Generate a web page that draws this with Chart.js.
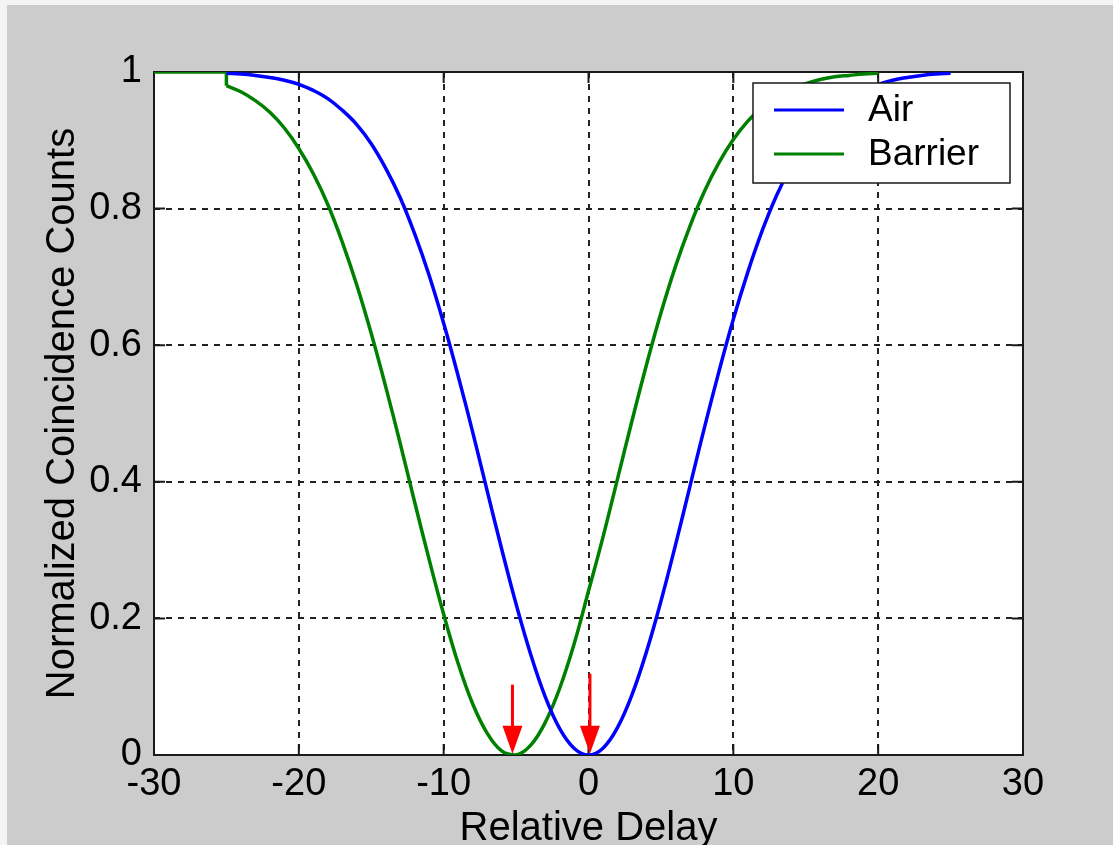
<!DOCTYPE html>
<html>
<head>
<meta charset="utf-8">
<script src="https://cdn.jsdelivr.net/npm/chart.js@4.4.1/dist/chart.umd.min.js"></script>
<style>
html, body { margin: 0; padding: 0; background: #f4f4f4; overflow: hidden; }
#wrap { position: absolute; left: 7px; top: 5px; width: 1106px; height: 850px; background: #cccccc; }
canvas { display: block; }
</style>
</head>
<body>
<div id="wrap"><canvas id="c" width="1106" height="850"></canvas></div>
<script>
// ---- data ----
const airX = [-25, -24, -23, -22, -21, -20, -19, -18, -17, -16, -15, -14, -13, -12, -11, -10, -9, -8, -7, -6, -5, -4, -3, -2, -1,
    0, 1, 2, 3, 4, 5, 6, 7, 8, 9, 10, 11, 12, 13, 14, 15, 16, 17, 18, 19, 20, 21, 22, 23, 24, 25];
const airY = [0.998, 0.997, 0.995, 0.992, 0.988, 0.982, 0.973, 0.961, 0.944, 0.923, 0.895, 0.859, 0.816, 0.763, 0.702, 0.632, 0.555, 0.473, 0.387, 0.302, 0.221, 0.148, 0.086, 0.039, 0.010,
    0.000, 0.010, 0.040, 0.088, 0.151, 0.225, 0.307, 0.393, 0.479, 0.561, 0.638, 0.707, 0.768, 0.820, 0.862, 0.897, 0.924, 0.945, 0.962, 0.974, 0.982, 0.988, 0.992, 0.995, 0.997, 0.998];

const barrierX = [-25, -24, -23, -22, -21, -20, -19, -18, -17, -16, -15, -14, -13, -12, -11, -10, -9, -8, -7, -6, -5, -4, -3, -2, -1,
    0, 1, 2, 3, 4, 5, 6, 7, 8, 9, 10, 11, 12, 13, 14, 15, 16, 17, 18, 19, 20];
const barrierY = [0.980, 0.971, 0.958, 0.941, 0.918, 0.888, 0.851, 0.806, 0.751, 0.688, 0.617, 0.539, 0.456, 0.370, 0.286, 0.206, 0.134, 0.075, 0.032, 0.006, 0.000, 0.014, 0.047, 0.097, 0.162,
    0.240, 0.319, 0.404, 0.489, 0.571, 0.647, 0.715, 0.774, 0.825, 0.867, 0.901, 0.928, 0.948, 0.964, 0.975, 0.983, 0.989, 0.993, 0.995, 0.997, 0.998];
// flat lead-in of the barrier trace before it drops at -25
const barrierPadX = [-30, -25, -25];
const barrierPadY = [1, 1, 0.980];

// red markers at the two minima
const arrowX = [-5.25, 0.1];
const arrowTop = [0.103, 0.119];
const arrowTip = [0.002, 0.002];

const xTicks = [-30, -20, -10, 0, 10, 20, 30];
const yTicks = [0, 0.2, 0.4, 0.6, 0.8, 1];

const FONT = '"Liberation Sans", Arial, sans-serif';
const BLUE = '#0000ff';
const GREEN = '#008000';

function pts(xs, ys) {
    return xs.map((x, i) => ({ x, y: ys[i] }));
}

// ---- drawing helpers: plot box, inner ticks, arrows, legend ----
const matlabLook = {
    id: 'matlabLook',
    beforeDraw(chart) {
        const { ctx, chartArea: a } = chart;
        ctx.save();
        ctx.fillStyle = '#ffffff';
        ctx.fillRect(a.left, a.top, a.right - a.left, a.bottom - a.top);
        ctx.restore();
    },
    beforeDatasetsDraw(chart) {
        const { ctx, chartArea: a, scales } = chart;
        ctx.save();
        ctx.strokeStyle = '#1a1a1a';
        ctx.lineWidth = 2;
        ctx.strokeRect(a.left, a.top, a.right - a.left, a.bottom - a.top);
        ctx.lineWidth = 2;
        ctx.beginPath();
        xTicks.forEach(v => {
            const px = scales.x.getPixelForValue(v);
            ctx.moveTo(px, a.bottom); ctx.lineTo(px, a.bottom - 11);
            ctx.moveTo(px, a.top); ctx.lineTo(px, a.top + 11);
        });
        yTicks.forEach(v => {
            const py = scales.y.getPixelForValue(v);
            ctx.moveTo(a.left, py); ctx.lineTo(a.left + 11, py);
            ctx.moveTo(a.right, py); ctx.lineTo(a.right - 11, py);
        });
        ctx.stroke();
        ctx.restore();
    },
    afterDatasetsDraw(chart) {
        const { ctx, chartArea: a, scales } = chart;
        ctx.save();
        // arrows
        ctx.strokeStyle = '#ff0000';
        ctx.fillStyle = '#ff0000';
        ctx.lineWidth = 3;
        arrowX.forEach((xv, i) => {
            const px = scales.x.getPixelForValue(xv);
            const top = scales.y.getPixelForValue(arrowTop[i]);
            const tip = scales.y.getPixelForValue(arrowTip[i]);
            const headLen = 28;
            ctx.beginPath();
            ctx.moveTo(px, top);
            ctx.lineTo(px, tip - headLen + 2);
            ctx.stroke();
            ctx.beginPath();
            ctx.moveTo(px - 10, tip - headLen);
            ctx.lineTo(px + 10, tip - headLen);
            ctx.lineTo(px, tip);
            ctx.closePath();
            ctx.fill();
        });

        // legend box
        const bw = 257, bh = 100;
        const bx = a.right - 13 - bw, by = a.top + 11;
        ctx.fillStyle = '#ffffff';
        ctx.fillRect(bx, by, bw, bh);
        ctx.strokeStyle = '#1a1a1a';
        ctx.lineWidth = 1.5;
        ctx.strokeRect(bx, by, bw, bh);
        const rows = [by + 27, by + 71];
        chart.data.datasets.slice(0, 2).forEach((ds, i) => {
            ctx.strokeStyle = ds.borderColor;
            ctx.lineWidth = 3;
            ctx.beginPath();
            ctx.moveTo(bx + 21, rows[i]);
            ctx.lineTo(bx + 91, rows[i]);
            ctx.stroke();
            ctx.fillStyle = '#000000';
            ctx.font = '37px ' + FONT;
            ctx.textBaseline = 'middle';
            ctx.textAlign = 'left';
            ctx.fillText(ds.label, bx + 115, rows[i] + 1);
        });
        ctx.restore();
    }
};

const ctx = document.getElementById('c').getContext('2d');
new Chart(ctx, {
    type: 'line',
    data: {
        datasets: [
            { label: 'Air', data: pts(airX, airY), borderColor: BLUE, borderWidth: 3.5, pointRadius: 0, tension: 0.4 },
            { label: 'Barrier', data: pts(barrierX, barrierY), borderColor: GREEN, borderWidth: 3.5, pointRadius: 0, tension: 0.4 },
            { label: 'Barrier lead', data: pts(barrierPadX, barrierPadY), borderColor: GREEN, borderWidth: 3.5, pointRadius: 0, tension: 0 }
        ]
    },
    options: {
        responsive: false,
        animation: false,
        devicePixelRatio: 1,
        layout: { padding: { left: 0, right: 90, top: 67, bottom: 0 } },
        plugins: { legend: { display: false }, tooltip: { enabled: false } },
        scales: {
            x: {
                type: 'linear', min: -30, max: 30,
                afterBuildTicks: s => { s.ticks = xTicks.map(v => ({ value: v })); },
                afterFit: s => { s.height = 100; },
                ticks: { color: '#000', font: { family: FONT, size: 38 }, padding: 7, maxRotation: 0, callback: v => String(v) },
                grid: { color: '#222222', lineWidth: 2, drawTicks: false },
                border: { display: false, dash: [6, 6] },
                title: { display: true, text: 'Relative Delay', color: '#000', font: { family: FONT, size: 40, lineHeight: 1 }, padding: { top: 0, bottom: 6 } }
            },
            y: {
                type: 'linear', min: 0, max: 1,
                afterBuildTicks: s => { s.ticks = yTicks.map(v => ({ value: v })); },
                afterFit: s => { s.width = 147; },
                ticks: { color: '#000', font: { family: FONT, size: 38 }, padding: 12, callback: v => String(+v.toFixed(1)) },
                grid: { color: '#222222', lineWidth: 2, drawTicks: false },
                border: { display: false, dash: [6, 6] },
                title: { display: true, text: 'Normalized Coincidence Counts', color: '#000', font: { family: FONT, size: 40, lineHeight: 1 }, padding: { top: 36, bottom: 0 } }
            }
        }
    },
    plugins: [matlabLook]
});
</script>
</body>
</html>
